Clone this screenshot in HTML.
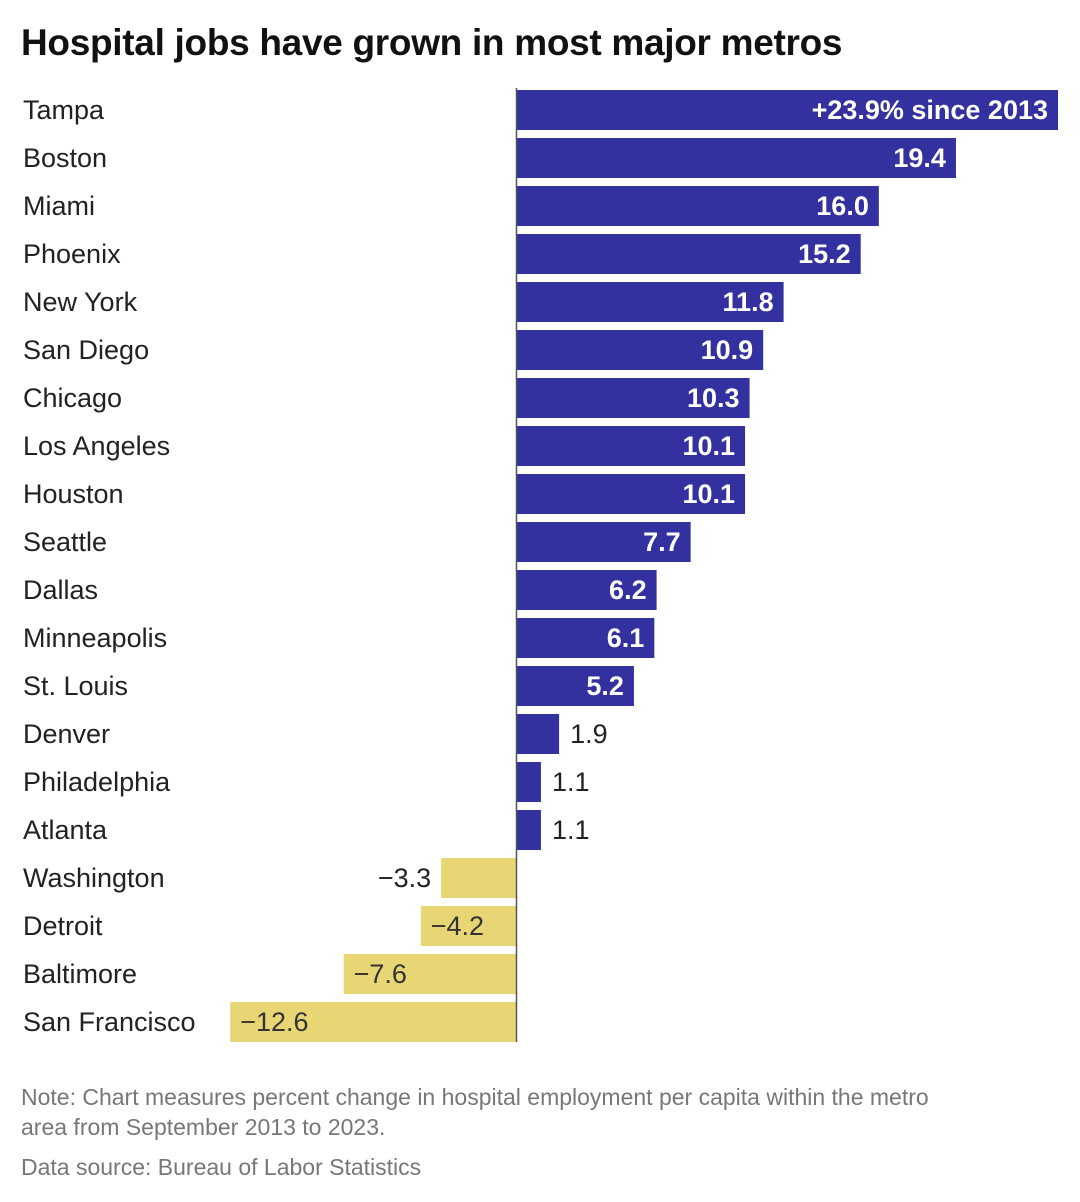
<!DOCTYPE html>
<html><head><meta charset="utf-8"><style>
body{margin:0;background:#fff;font-family:"Liberation Sans",sans-serif;}
#wrap{position:relative;width:1080px;height:1202px;overflow:hidden;}
h1{position:absolute;left:21px;top:22px;margin:0;font-size:37px;font-weight:bold;color:#111;letter-spacing:-0.3px;}
.note{position:absolute;left:21px;font-size:23px;color:#777;line-height:30px;}
</style></head><body>
<div id="wrap">
<h1>Hospital jobs have grown in most major metros</h1>
<svg id="chart" width="1080" height="1060" style="position:absolute;left:0;top:0"></svg>
<div class="note" style="top:1082px">Note: Chart measures percent change in hospital employment per capita within the metro<br>area from September 2013 to 2023.</div>
<div class="note" style="top:1152px">Data source: Bureau of Labor Statistics</div>
</div>
<script>
const categories=["Tampa","Boston","Miami","Phoenix","New York","San Diego","Chicago","Los Angeles","Houston","Seattle","Dallas","Minneapolis","St. Louis","Denver","Philadelphia","Atlanta","Washington","Detroit","Baltimore","San Francisco"];
const values=[23.9,19.4,16.0,15.2,11.8,10.9,10.3,10.1,10.1,7.7,6.2,6.1,5.2,1.9,1.1,1.1,-3.3,-4.2,-7.6,-12.6];
const valueLabels=["+23.9% since 2013","19.4","16.0","15.2","11.8","10.9","10.3","10.1","10.1","7.7","6.2","6.1","5.2","1.9","1.1","1.1","\u22123.3","\u22124.2","\u22127.6","\u221212.6"];
const svg=document.getElementById('chart');const NS="http://www.w3.org/2000/svg";
const x0=516,scale=542/23.9;
const x=v=>x0+v*scale;
const rowY=i=>90+48*i;
function mk(t,a){const e=document.createElementNS(NS,t);for(const k in a)e.setAttribute(k,a[k]);svg.appendChild(e);return e;}
categories.forEach((c,i)=>{
 const v=values[i],y=rowY(i);
 const lab=mk('text',{x:23,y:y+29,'font-size':27,fill:'#222'});lab.textContent=c;
 
 
 const xa=Math.min(x(v),x0),w=Math.abs(x(v)-x0);
 const r=mk('rect',{x:xa,y:y,width:w,height:40,fill:v>=0?'#3330a0':'#e8d675'});
 
 
 const inside=w>90;let tx,anchor,col;
 if(v>=0){if(inside){tx=x(v)-10;anchor='end';col='#fff';}else{tx=x(v)+11;anchor='start';col='#222';}}
 else{if(inside){tx=x(v)+10;anchor='start';col='#333';}else{tx=x(v)-10;anchor='end';col='#222';}}
 const t=mk('text',{x:tx,y:y+29,'font-size':27,fill:col,'text-anchor':anchor,'font-weight':v>=0&&inside?'bold':'normal'});
 t.textContent=valueLabels[i];
 
 
});
const ax=mk('line',{x1:x0+0.5,x2:x0+0.5,y1:88,y2:1042,stroke:'#555','stroke-width':1.5});


</script>
</body></html>
